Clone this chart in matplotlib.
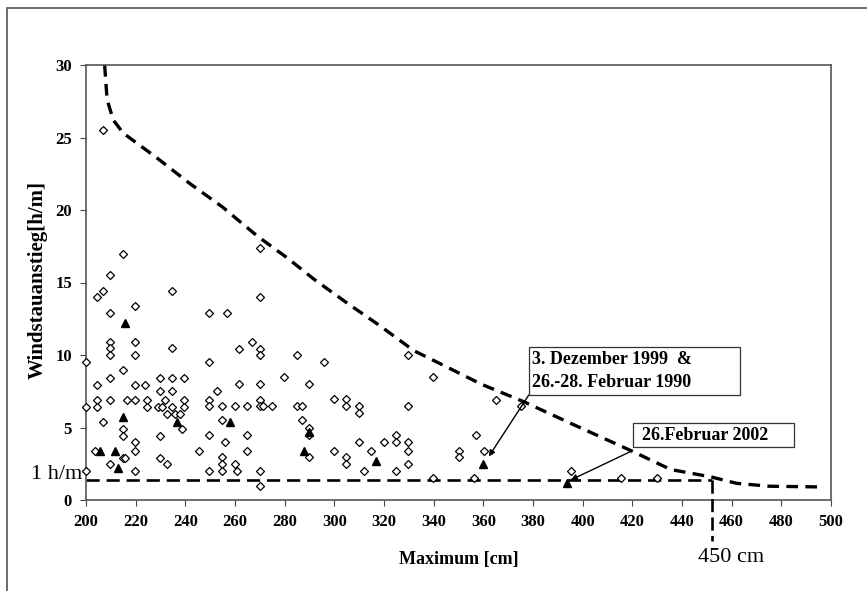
import matplotlib; matplotlib.use("Agg")
import matplotlib.pyplot as plt
from matplotlib.patches import Rectangle

plt.rcParams["font.family"] = ["Liberation Serif", "DejaVu Serif"]

# hollow diamonds: all events (Maximum [cm], Windstauanstieg [h/m])
dia_x = [206.9, 214.8, 209.7, 206.9, 204.6, 234.7, 219.6, 209.7,
         209.7, 219.6, 209.7, 234.7, 209.7, 219.6, 200.0, 214.8,
         204.6, 209.7, 219.6, 223.7, 229.8, 234.7, 239.5, 229.8, 234.7,
         204.6, 209.7, 216.7, 219.6, 224.7, 231.7, 239.5,
         200.0, 204.6, 224.7, 229.0, 230.7, 234.7, 239.5,
         232.8, 235.8, 237.9, 206.7, 214.8, 238.7, 214.8, 229.8,
         219.6, 219.6, 203.5, 245.7, 214.8, 215.8, 229.8, 209.7, 232.8, 200.0, 219.6,
         269.9, 269.9, 249.7, 256.9, 266.8, 261.8, 269.9, 269.9, 249.7, 284.9,
         279.7, 261.8, 269.9, 252.8, 249.7, 269.9, 249.7, 254.8, 259.8, 264.9,
         269.9, 271.2, 275.0, 284.9, 287.0, 254.8, 287.0, 249.7, 264.9, 255.8,
         264.9, 254.8, 254.8, 259.8, 249.7, 254.8, 260.9, 269.9, 269.9,
         295.8, 289.9, 299.9, 304.8, 304.8, 309.9, 309.9, 289.9, 289.9, 289.9,
         299.9, 304.8, 304.8, 309.9, 311.8, 314.9, 319.9, 325.0, 325.0, 325.0,
         329.8, 329.8, 329.8, 329.8, 329.8, 339.9, 339.9, 350.1, 350.1, 357.1,
         356.2, 365.0, 375.3, 360.2, 395.2, 415.3, 430.1]
dia_y = [25.5, 17.0, 15.5, 14.4, 14.0, 14.4, 13.4, 12.9,
         10.9, 10.9, 10.5, 10.5, 10.0, 10.0, 9.5, 9.0,
         7.9, 8.4, 7.9, 7.9, 8.4, 8.4, 8.4, 7.5, 7.5,
         6.9, 6.9, 6.9, 6.9, 6.9, 6.9, 6.9,
         6.4, 6.4, 6.4, 6.4, 6.4, 6.4, 6.4,
         5.9, 5.9, 5.9, 5.4, 4.9, 4.9, 4.4, 4.4,
         4.0, 3.4, 3.4, 3.4, 2.9, 2.9, 2.9, 2.5, 2.5, 2.0, 2.0,
         17.4, 14.0, 12.9, 12.9, 10.9, 10.4, 10.4, 10.0, 9.5, 10.0,
         8.5, 8.0, 8.0, 7.5, 6.9, 6.9, 6.5, 6.5, 6.5, 6.5,
         6.5, 6.5, 6.5, 6.5, 6.5, 5.5, 5.5, 4.5, 4.5, 4.0,
         3.4, 3.0, 2.5, 2.5, 2.0, 2.0, 2.0, 2.0, 1.0,
         9.5, 8.0, 7.0, 7.0, 6.5, 6.5, 6.0, 5.0, 4.5, 3.0,
         3.4, 3.0, 2.5, 4.0, 2.0, 3.4, 4.0, 4.5, 4.0, 2.0,
         10.0, 6.5, 4.0, 3.4, 2.5, 8.5, 1.5, 3.4, 3.0, 4.5,
         1.5, 6.9, 6.5, 3.4, 2.0, 1.5, 1.5]

# filled triangles: selected events
tri_x = [205.6, 211.8, 212.8, 214.8, 215.7, 236.8, 257.8, 287.6, 289.9, 316.9, 360.0, 393.8]
tri_y = [3.4, 3.4, 2.2, 5.7, 12.2, 5.4, 5.4, 3.4, 4.7, 2.7, 2.5, 1.2]

# dashed envelope
env_x = [207.5, 208.5, 211.0, 215.0, 228.5, 242.0, 255.0, 269.0, 281.0, 292.0, 305.0,
         318.5, 332.0, 345.0, 359.0, 376.0, 395.0, 419.5, 435.5, 451.5, 462.0, 475.0, 496.0]
env_y = [30.0, 27.6, 26.2, 25.3, 23.6, 21.8, 20.2, 18.2, 16.7, 15.2, 13.6,
         12.0, 10.3, 9.2, 8.0, 6.8, 5.3, 3.4, 2.1, 1.6, 1.15, 0.95, 0.9]

# 1 h/m threshold and 450 cm marker
lim_x = [200, 452]
lim_y = [1.35, 1.35]
cut_x = [452, 452]
cut_y = [1.35, -2.8]

xticks = list(range(200, 501, 20))
yticks = list(range(0, 31, 5))

fig = plt.figure(figsize=(8.67, 5.91), dpi=100)
fig.patch.set_facecolor("white")
ax = fig.add_axes([86/867, 1-500/591, 745/867, 435/591])

ax.plot(env_x, env_y, color="black", lw=2.4, ls=(0, (3.5, 2.2)), zorder=2)
ax.plot(lim_x, lim_y, color="black", lw=1.9, ls=(0, (5, 2.6)), zorder=2)
ax.plot(cut_x, cut_y, color="black", lw=1.9, ls=(0, (5, 2.0)), zorder=6, clip_on=False)

ax.plot(dia_x, dia_y, ls="none", marker="D", ms=3.6, mfc="white", mec="black", mew=0.9,
        zorder=3, clip_on=False)
ax.plot(tri_x, tri_y, ls="none", marker="^", ms=6.0, mfc="black", mec="black", zorder=4,
        clip_on=False)

ax.set_xlim(200, 500)
ax.set_ylim(0, 30)
ax.set_xticks(xticks)
ax.set_yticks(yticks)
ax.tick_params(direction="out", length=4, width=0.8, color="#444444", labelsize=12, pad=6)
for lab in ax.get_xticklabels() + ax.get_yticklabels():
    lab.set_fontweight("bold")
for s in ax.spines.values():
    s.set_color("#555555")
    s.set_linewidth(1.2)

ax.set_xlabel("Maximum [cm]", fontsize=13, fontweight="bold")
ax.set_ylabel("Windstauanstieg[h/m]", fontsize=15, fontweight="bold")
ax.xaxis.set_label_coords(0.5, -0.118)
ax.yaxis.set_label_coords(-0.051, 0.505)

# annotation boxes
ax.add_patch(Rectangle((378.3, 7.24), 85.0, 3.31, fc="white", ec="#333333", lw=0.9, zorder=5))
ax.text(379.6, 9.66, "3. Dezember 1999  &", fontsize=13, fontweight="bold", ha="left",
        va="center", zorder=6)
ax.text(379.6, 8.12, "26.-28. Februar 1990", fontsize=13, fontweight="bold", ha="left",
        va="center", zorder=6)
ax.annotate("", xy=(362.2, 3.0), xytext=(378.3, 7.24),
            arrowprops=dict(arrowstyle="-|>", color="black", lw=1.0, mutation_scale=9,
                            shrinkA=0, shrinkB=0), zorder=5)

ax.add_patch(Rectangle((420.4, 3.63), 64.5, 1.7, fc="white", ec="#333333", lw=0.9, zorder=5))
ax.text(423.8, 4.47, "26.Februar 2002", fontsize=13, fontweight="bold", ha="left",
        va="center", zorder=6)
ax.annotate("", xy=(395.2, 1.38), xytext=(420.0, 3.4),
            arrowprops=dict(arrowstyle="-|>", color="black", lw=1.0, mutation_scale=9,
                            shrinkA=0, shrinkB=0), zorder=5)

ax.text(198.6, 1.75, "1 h/m", fontsize=16, ha="right", va="center", clip_on=False)
ax.text(446.3, -3.95, "450 cm", fontsize=16, ha="left", va="center", clip_on=False)

# outer frame
fig.add_artist(Rectangle((7/867, -0.5), 2.0, 1.5 - 8/591, transform=fig.transFigure,
                         fill=False, ec="#555555", lw=1.2))

fig.savefig("out.png", dpi=100, facecolor="white")
